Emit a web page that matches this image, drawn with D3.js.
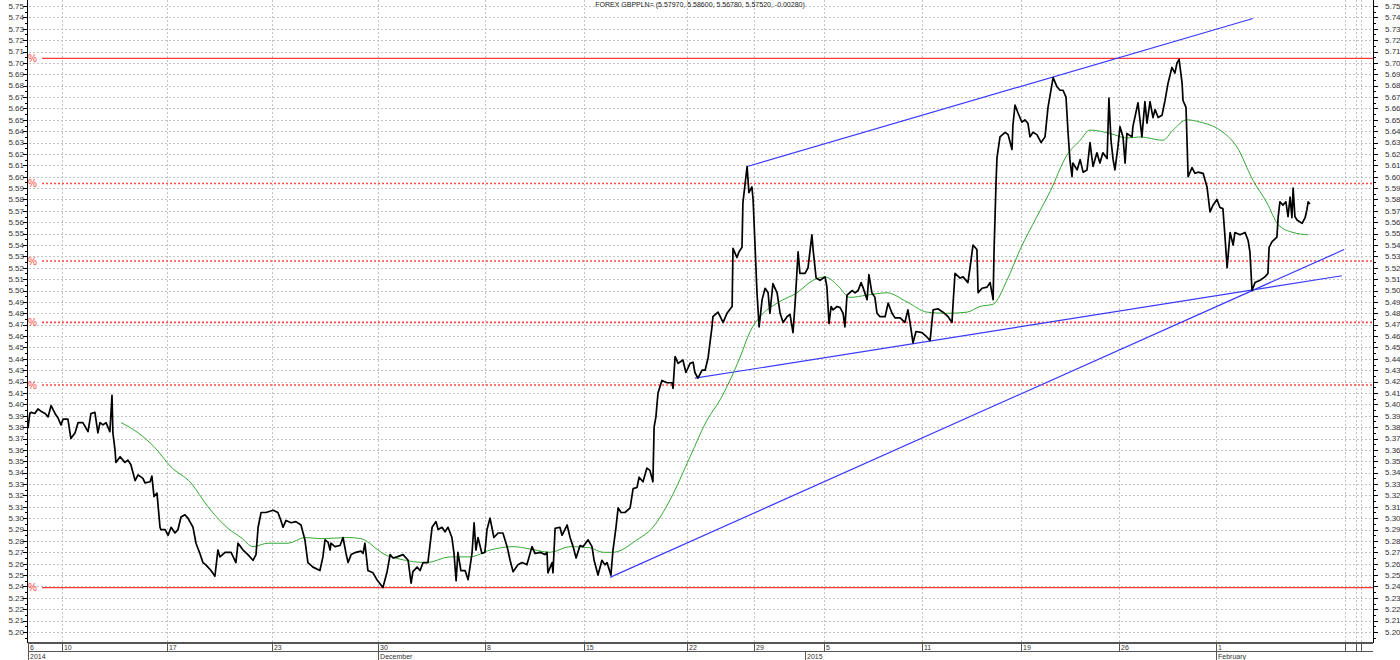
<!DOCTYPE html>
<html><head><meta charset="utf-8">
<script src="https://cdn.jsdelivr.net/npm/d3@7"></script>
<style>html,body{margin:0;padding:0;background:#fff;}svg{display:block;font-family:"Liberation Sans",Arial,sans-serif;}</style>
</head><body>
<svg id="c" width="1400" height="660"></svg>
<script>
// ---------- DATA ----------
const title = "FOREX GBPPLN= (5.57970, 5.58600, 5.56780, 5.57520, -0.00280)";
// price series: [bar index, price]
const priceSeries = [
[0,5.379],[0.6,5.392],[1,5.393],[2.3,5.392],[3.3,5.396],[4.3,5.394],[5.7,5.392],[6.7,5.389],[7.7,5.399],[9,5.392],[10,5.388],[11,5.382],[11.7,5.387],[13.3,5.387],[14.3,5.370],[15.7,5.375],[16.7,5.384],[18.3,5.384],[20,5.376],[21,5.392],[22.3,5.393],[23.3,5.375],[24,5.384],[25,5.382],[26,5.384],[27.3,5.376],[28,5.408],[28.3,5.375],[29,5.360],[29.3,5.349],[30.7,5.354],[32.3,5.349],[33.3,5.351],[34.3,5.347],[35.7,5.333],[36.7,5.338],[38.3,5.335],[39,5.331],[40.7,5.332],[41.3,5.337],[42,5.319],[43,5.322],[44,5.292],[44.3,5.290],[45.7,5.290],[46.7,5.285],[47.7,5.292],[49,5.287],[50,5.290],[51,5.301],[52.3,5.303],[53.3,5.300],[55,5.292],[56,5.278],[57.3,5.269],[58.3,5.261],[59.3,5.259],[61,5.254],[62.3,5.249],[63.3,5.272],[64,5.266],[65.7,5.270],[67.7,5.270],[69.3,5.261],[70,5.278],[71.7,5.272],[73.3,5.268],[75,5.263],[76,5.268],[76.7,5.292],[77.7,5.305],[79.3,5.305],[81.7,5.307],[83.3,5.305],[84.3,5.298],[85,5.292],[86,5.298],[87.7,5.296],[89.3,5.297],[91,5.294],[92.3,5.281],[93.3,5.261],[95,5.257],[97.3,5.254],[98.3,5.266],[99,5.281],[100,5.279],[100.7,5.272],[101,5.278],[102.3,5.275],[104,5.276],[105,5.283],[106,5.269],[106.7,5.261],[107.7,5.268],[109.3,5.270],[111,5.271],[111.7,5.269],[112.3,5.278],[113.3,5.254],
[115,5.252],[116.3,5.246],[118.3,5.239],[119.7,5.253],[120.7,5.268],[121.7,5.265],[123,5.266],[125,5.268],[126.7,5.263],[127.7,5.243],[128.3,5.253],[129.7,5.257],[130.7,5.254],[131.7,5.261],[133.3,5.261],[134.7,5.292],[136,5.297],[136.7,5.290],[138,5.292],[139,5.288],[140,5.292],[141.3,5.283],[142,5.269],[142.7,5.245],[143.3,5.270],[144.3,5.254],[145.7,5.254],[146.7,5.246],[148,5.269],[148.7,5.296],[149.3,5.272],[150,5.283],[151.3,5.269],[152.3,5.270],[153,5.290],[154,5.300],[155.3,5.283],[156.7,5.287],[158.3,5.287],[159.7,5.275],[160.7,5.263],[161.7,5.253],[163.3,5.259],[164.7,5.261],[166.3,5.259],[168,5.275],[169,5.269],[170.7,5.270],[172.3,5.268],[173,5.270],[173.3,5.252],[174.7,5.261],[175,5.252],[175.7,5.291],[177.3,5.292],[178,5.285],[179.7,5.294],[180.7,5.283],[181.7,5.275],[182.7,5.265],[184,5.276],[185,5.275],[186.7,5.281],[188,5.275],[188.7,5.263],[190,5.250],[191.3,5.263],[192.3,5.259],[193,5.261],[194.3,5.250],[195,5.272],[196,5.292],[196.7,5.309],[197.7,5.305],[199,5.305],[200.7,5.309],[201.7,5.326],[203,5.327],[203.7,5.336],[205,5.332],[206.3,5.344],[207.3,5.342],[208.3,5.332],[208.7,5.380],[209.3,5.389],[210,5.410],[211.3,5.421],[213,5.419],[214.7,5.419],[215,5.414],[215.7,5.442],[216.7,5.436],[218.3,5.439],[219.3,5.428],[220.7,5.436],[221.7,5.437],[222.3,5.428],[223.3,5.423],[224.7,5.430],[225.7,5.430],[226.7,5.441],
[228,5.468],[228.3,5.477],[230,5.481],[231.7,5.472],[233,5.480],[234.7,5.486],[235,5.537],[236.3,5.529],[237,5.534],[238,5.538],[238.3,5.577],[239,5.593],[239.7,5.609],[240.3,5.586],[241.3,5.591],[241.7,5.580],[243,5.498],[243.7,5.468],[244.7,5.492],[245.7,5.502],[246.7,5.498],[247.3,5.480],[248.3,5.506],[249.7,5.498],[250.7,5.480],[251.7,5.472],[253,5.477],[254,5.479],[255,5.463],[255.7,5.489],[256.7,5.534],[257.3,5.515],[259,5.515],[260,5.520],[261.3,5.549],[261.7,5.536],[262.7,5.511],[264,5.509],[265.7,5.512],[266.3,5.503],[267,5.471],[267.7,5.486],[268.3,5.483],[269.7,5.486],[270.7,5.485],[271.7,5.480],[272.3,5.468],[273,5.496],[274.7,5.500],[275.7,5.498],[276.7,5.500],[277.7,5.507],[278.3,5.503],[279.7,5.492],[280.3,5.514],[281.3,5.498],[282.3,5.494],[283,5.480],[284,5.477],[285.7,5.477],[286.7,5.489],[288,5.480],[289,5.476],[290.7,5.476],[292.3,5.472],[293.3,5.483],[294,5.472],[295,5.454],[296,5.464],[298,5.463],[299.7,5.459],[300.7,5.456],[301.7,5.483],[303.3,5.484],[305,5.481],[306.7,5.477],[308,5.472],[308.3,5.486],[309,5.515],[310.7,5.511],[311.7,5.512],[313.3,5.507],[314,5.520],[315,5.540],[316.3,5.536],[316.7,5.498],[318,5.502],[319.7,5.503],[320.7,5.507],[321.7,5.492],[322,5.533],[322.7,5.597],[323,5.617],[324,5.635],[325.7,5.639],[326.7,5.637],[328,5.624],[328.3,5.645],[329,5.663],[330,5.656],[331.3,5.648],[332.3,5.650],[333.3,5.647],[334,5.635],[335,5.639],[336.3,5.637],[337.7,5.630],
[339,5.635],[340,5.661],[341.7,5.687],[343,5.679],[344,5.676],[345,5.676],[346,5.670],[346.7,5.638],[347.3,5.615],[348,5.600],[348.3,5.612],[349.7,5.606],[350.7,5.615],[351.7,5.604],[353,5.606],[354,5.630],[355,5.609],[356.3,5.621],[357.3,5.612],[358.3,5.621],[359.7,5.616],[360.3,5.669],[361,5.632],[361.7,5.615],[362.3,5.606],[363.3,5.626],[364,5.644],[365,5.635],[365.7,5.612],[366.3,5.638],[368,5.635],[368.3,5.644],[370,5.665],[371.3,5.635],[372.3,5.666],[373,5.647],[374,5.666],[375,5.652],[375.7,5.659],[376.7,5.652],[378,5.654],[379,5.667],[380,5.682],[381.3,5.696],[382.3,5.691],[383,5.700],[383.7,5.703],[384.7,5.682],[385,5.667],[386,5.661],[386.7,5.600],[388,5.608],[389,5.603],[390,5.604],[391.7,5.603],[393,5.591],[394,5.569],[395,5.575],[396.3,5.580],[397.3,5.573],[398.3,5.572],[399,5.547],[399.7,5.520],[400.7,5.551],[401.7,5.540],[402.3,5.551],[404,5.549],[405.7,5.551],[406.7,5.544],[407.3,5.534],[408,5.500],[409,5.507],[410.7,5.509],[412.3,5.512],[413.3,5.515],[413.7,5.538],[414.7,5.543],[416.3,5.547],[416.7,5.564],[417.3,5.578],[418.3,5.575],[419.3,5.578],[420,5.565],[420.7,5.582],[421.3,5.564],[421.7,5.590],[422.3,5.565],[423,5.562],[424.7,5.559],[425.7,5.564],[426.3,5.571],[426.7,5.578],[427.3,5.576]
];
// moving average (green)
const maSeries = [
[31,5.384],[36.7,5.375],[42.3,5.362],[47.7,5.345],[54.3,5.331],[60,5.310],[66.7,5.291],[71,5.283],[75,5.275],[80,5.278],[86.7,5.278],[92.3,5.283],[97.7,5.282],[106.7,5.283],[111,5.282],[116.7,5.272],[118.3,5.269],[124,5.264],[133,5.261],[140.7,5.266],[147.3,5.266],[154,5.272],[161.7,5.275],[167.3,5.273],[174,5.270],[180.7,5.275],[187.3,5.274],[191.7,5.270],[195,5.270],[203,5.281],[208.3,5.292],[214,5.316],[220.7,5.354],[226.3,5.386],[230.7,5.404],[237.3,5.441],[240.7,5.464],[244,5.477],[249.7,5.489],[256.3,5.498],[261.7,5.509],[265.7,5.512],[269.7,5.505],[274,5.494],[279.7,5.496],[286.3,5.498],[293,5.490],[299.7,5.481],[306.3,5.480],[313,5.481],[317.3,5.486],[321.7,5.488],[326.3,5.509],[330.7,5.536],[336.3,5.565],[340.7,5.587],[346.3,5.619],[350.7,5.632],[354,5.641],[360.7,5.638],[366.3,5.634],[370.7,5.635],[378.3,5.632],[381.7,5.641],[386.3,5.650],[390.7,5.648],[397.3,5.641],[403,5.626],[408.3,5.597],[413,5.577],[416.7,5.558],[421.7,5.551],[426.7,5.549]
];
// trend lines: [[x1,y1],[x2,y2]]
const trendLines = [
[[194,5.248],[438.7,5.536]],
[[222.3,5.423],[438,5.513]],
[[239.7,5.609],[408.3,5.739]]
];
// fibonacci levels
const fibLevels = [5.704, 5.594, 5.526, 5.472, 5.417, 5.239];
const fibSolid  = [true, false, false, false, false, true];
// x axis ticks (bar index) and labels
const xTickPos    = [0, 11.3, 46.3, 81.3, 116.7, 152.3, 185.3, 219.7, 242, 265.3, 298, 331, 363.7, 396, 439, 442.7, 444.3];
const xTickLabels = ["6","10","17","23","30","8","15","22","29","5","11","19","26","1","","",""];
const periodPos    = [0, 116.7, 259, 396];
const periodLabels = ["2014","December","2015","February"];
const yMin = 5.20, yMax = 5.75;

// ---------- CHART ----------
const svg = d3.select("#c");
const L = 28, R = 1373, T = 0, B = 642;
const x = d3.scaleLinear().domain([0, 448.33]).range([L, R]);
const y = d3.scaleLinear().domain([yMin, yMax]).range([632, 6]);

const yTicks = d3.range(0, 56).map(i => +(yMin + i*0.01).toFixed(2));
const yMinor = d3.range(0, 112).map(i => yMin - 0.005 + i*0.005).filter(v => y(v) > 1 && y(v) < B);

// grid
const grid = svg.append("g");
grid.selectAll("line.h").data(yTicks).join("line")
  .attr("x1", L+1).attr("x2", R).attr("y1", d => Math.round(y(d))+0.5).attr("y2", d => Math.round(y(d))+0.5)
  .attr("stroke", "#c4c4c4").attr("stroke-dasharray", "2,2").attr("stroke-width", 1);
grid.selectAll("line.v").data(xTickPos.slice(1)).join("line")
  .attr("x1", d => Math.round(x(d))+0.5).attr("x2", d => Math.round(x(d))+0.5).attr("y1", T).attr("y2", B)
  .attr("stroke", "#c4c4c4").attr("stroke-dasharray", "2,2").attr("stroke-width", 1);

// title
svg.append("text").attr("x", 700).attr("y", 7).attr("text-anchor", "middle")
  .attr("font-size", 7).attr("fill", "#222").text(title);

// fib levels
const fib = svg.append("g");
fibLevels.forEach((v, i) => {
  fib.append("line").attr("x1", 42).attr("x2", R).attr("y1", y(v)).attr("y2", y(v))
    .attr("stroke", fibSolid[i] ? "#ff3b3b" : "#ff4a4a").attr("stroke-width", fibSolid[i] ? 1.3 : 1.6)
    .attr("stroke-dasharray", fibSolid[i] ? null : "2,2");
  fib.append("text").attr("x", 28).attr("y", y(v)).attr("dy", "0.38em").attr("font-size", 10)
    .attr("fill", "#ff4040").text("%");
});

svg.append("defs").append("clipPath").attr("id", "clip").append("rect")
  .attr("x", L).attr("y", T).attr("width", R - L).attr("height", B - T);
const plot = svg.append("g").attr("clip-path", "url(#clip)");

// trend lines
plot.selectAll("line.t").data(trendLines).join("line")
  .attr("x1", d => x(d[0][0])).attr("y1", d => y(d[0][1]))
  .attr("x2", d => x(d[1][0])).attr("y2", d => y(d[1][1]))
  .attr("stroke", "#3a3aff").attr("stroke-width", 1.2);

// moving average
plot.append("path").datum(maSeries)
  .attr("d", d3.line().x(d => x(d[0])).y(d => y(d[1])).curve(d3.curveMonotoneX))
  .attr("fill", "none").attr("stroke", "#33aa33").attr("stroke-width", 1);

// price
plot.append("path").datum(priceSeries)
  .attr("d", d3.line().x(d => x(d[0])).y(d => y(d[1])))
  .attr("fill", "none").attr("stroke", "#000").attr("stroke-width", 1.7).attr("stroke-linejoin", "round");

// axes
const ax = svg.append("g");
ax.append("line").attr("x1", L-0.5).attr("x2", L-0.5).attr("y1", 0).attr("y2", B+1).attr("stroke", "#000");
ax.append("line").attr("x1", R+0.5).attr("x2", R+0.5).attr("y1", 0).attr("y2", B+1).attr("stroke", "#000");
ax.selectAll("line.lm").data(yMinor).join("line")
  .attr("x1", L-3).attr("x2", L).attr("y1", d => Math.round(y(d))+0.5).attr("y2", d => Math.round(y(d))+0.5).attr("stroke", "#000");
ax.selectAll("line.rm").data(yMinor).join("line")
  .attr("x1", R).attr("x2", R+3).attr("y1", d => Math.round(y(d))+0.5).attr("y2", d => Math.round(y(d))+0.5).attr("stroke", "#000");
ax.selectAll("line.lM").data(yTicks).join("line")
  .attr("x1", L-5).attr("x2", L).attr("y1", d => Math.round(y(d))+0.5).attr("y2", d => Math.round(y(d))+0.5).attr("stroke", "#000");
ax.selectAll("line.rM").data(yTicks).join("line")
  .attr("x1", R).attr("x2", R+5).attr("y1", d => Math.round(y(d))+0.5).attr("y2", d => Math.round(y(d))+0.5).attr("stroke", "#000");
ax.selectAll("text.l").data(yTicks).join("text")
  .attr("x", 24).attr("y", d => y(d)).attr("dy", "0.35em").attr("text-anchor", "end")
  .attr("font-size", 8).attr("fill", "#333").text(d => d.toFixed(2));
ax.selectAll("text.r").data(yTicks).join("text")
  .attr("x", 1385).attr("y", d => y(d)).attr("dy", "0.35em")
  .attr("font-size", 8).attr("fill", "#333").text(d => d.toFixed(2));

// bottom date strip
const bx = svg.append("g");
bx.append("rect").attr("x", L).attr("y", B).attr("width", R - L).attr("height", 2).attr("fill", "#555");
bx.append("line").attr("x1", L).attr("x2", R).attr("y1", 651.5).attr("y2", 651.5).attr("stroke", "#555");
bx.selectAll("line.xs").data(xTickPos).join("line")
  .attr("x1", d => Math.round(x(d))+0.5).attr("x2", d => Math.round(x(d))+0.5).attr("y1", B+2).attr("y2", 651)
  .attr("stroke", "#555");
bx.selectAll("text.xl").data(xTickPos).join("text")
  .attr("x", d => x(d)+2).attr("y", 650).attr("font-size", 7).attr("fill", "#333")
  .text((d, i) => xTickLabels[i]);
bx.selectAll("line.ps").data(periodPos).join("line")
  .attr("x1", d => Math.round(x(d))+0.5).attr("x2", d => Math.round(x(d))+0.5).attr("y1", 652).attr("y2", 660)
  .attr("stroke", "#555");
bx.selectAll("text.pl").data(periodPos).join("text")
  .attr("x", d => x(d)+2).attr("y", 659).attr("font-size", 7).attr("fill", "#333")
  .text((d, i) => periodLabels[i]);
</script>
</body></html>
